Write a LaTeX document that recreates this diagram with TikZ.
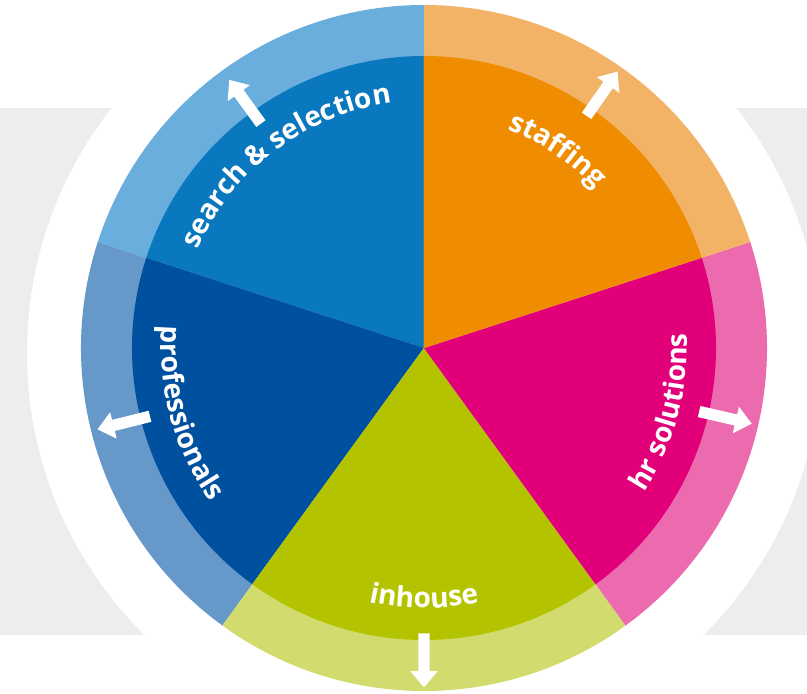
\documentclass[tikz,border=0pt]{standalone}
\usepackage{fontspec}
\setmainfont{Open Sans}
\usetikzlibrary{shapes.arrows}

\definecolor{searchdark}{HTML}{0A78BE}
\definecolor{searchlight}{HTML}{69AEDC}
\definecolor{profdark}{HTML}{0050A0}
\definecolor{proflight}{HTML}{6698CA}
\definecolor{housedark}{HTML}{B4C300}
\definecolor{houselight}{HTML}{D2DB6E}
\definecolor{hrdark}{HTML}{E2007A}
\definecolor{hrlight}{HTML}{EC6AAE}
\definecolor{staffdark}{HTML}{EF8C00}
\definecolor{stafflight}{HTML}{F2B366}
\definecolor{bandgray}{HTML}{EDEDED}

\newcommand\wheelfont{\bfseries\fontsize{28}{28}\selectfont}
\newdimen\charwd

\makeatletter
% widths of the letters of a label, taken before the picture
\newcommand\measurelabel[2]{%
  \gdef\totw{0}%
  \foreach \ch [count=\i] in {#2} {%
    \setbox0=\hbox{\wheelfont\ch}%
    \global\charwd=\wd0
    \expandafter\xdef\csname wd@#1@\i\endcsname{\strip@pt\charwd}%
    \pgfmathsetmacro\tmp{\totw+\strip@pt\charwd}\xdef\totw{\tmp}}%
  \expandafter\xdef\csname tot@#1\endcsname{\totw}}
% letters set one by one on a circle: radius, middle angle, 1 (ccw) or -1 (cw), name, letters
\newcommand\arclabel[5]{%
  \edef\totw{\csname tot@#4\endcsname}%
  \gdef\runw{0}%
  \foreach \ch [count=\i] in {#5} {%
    \edef\cw{\csname wd@#4@\i\endcsname}%
    \pgfmathsetmacro\ang{#2+(#3)*deg((\runw+\cw/2-\totw/2)/#1)}%
    \pgfmathsetmacro\rot{\ang+(#3)*90}%
    \node[wheelletter, rotate=\rot] (#4-\i) at (\ang:#1pt) {\ch};
    \pgfmathsetmacro\tmp{\runw+\cw}\xdef\runw{\tmp}%
  }}
\makeatother

\tikzset{
  wheelletter/.style={anchor=base, inner sep=0pt, text=white, font=\wheelfont},
  outarrow/.style={single arrow, fill=white, draw=none, inner xsep=0pt, inner ysep=5.5pt,
      minimum width=0pt, minimum height=54pt, single arrow head extend=8pt,
      single arrow tip angle=80, rotate=#1},
}

\begin{document}
\measurelabel{search}{s,e,a,r,c,h,~,\&,~,s,e,l,e,c,t,i,o,n}
\measurelabel{staff}{s,t,a,f,f,i,n,g}
\measurelabel{hr}{h,r,~,s,o,l,u,t,i,o,n,s}
\measurelabel{house}{i,n,h,o,u,s,e}
\measurelabel{prof}{p,r,o,f,e,s,s,i,o,n,a,l,s}
\begin{tikzpicture}[x=1pt,y=1pt]
                \useasboundingbox (-424,-346) rectangle (383,348);
                % background band and white halo
                \fill[bandgray] (-424,-287) rectangle (383,240);
                \fill[white] (0,-5) circle[radius=397pt];
                % the five sectors
                \foreach \a/\b/\dark/\light in {90/162/searchdark/searchlight,
                    162/234/profdark/proflight, 234/306/housedark/houselight,
                    306/378/hrdark/hrlight, 18/90/staffdark/stafflight} {
                    \fill[\light] (0,0) -- (\a:343pt) arc[start angle=\a, end angle=\b, radius=343pt] -- cycle;
                    \fill[\dark] (0,0) -- (\a:292pt) arc[start angle=\a, end angle=\b, radius=292pt] -- cycle;
                }
                % labels
                \arclabel{247}{127}{-1}{search}{s,e,a,r,c,h,~,\&,~,s,e,l,e,c,t,i,o,n}
                \arclabel{234}{56}{-1}{staff}{s,t,a,f,f,i,n,g}
                \arclabel{263}{-15}{1}{hr}{h,r,~,s,o,l,u,t,i,o,n,s}
                \arclabel{260}{270}{1}{house}{i,n,h,o,u,s,e}
                \arclabel{263}{195.5}{1}{prof}{p,r,o,f,e,s,s,i,o,n,a,l,s}
                % arrows
                \node[outarrow=126] (searcharrow) at (126:301pt) {};
                \node[outarrow=55] (staffarrow) at (55:307pt) {};
                \node[outarrow=-13] (hrarrow) at (-13:306pt) {};
                \node[outarrow=270] (housearrow) at (270:309pt) {};
                \node[outarrow=194] (profarrow) at (194:306pt) {};
            \end{tikzpicture}
\end{document}
